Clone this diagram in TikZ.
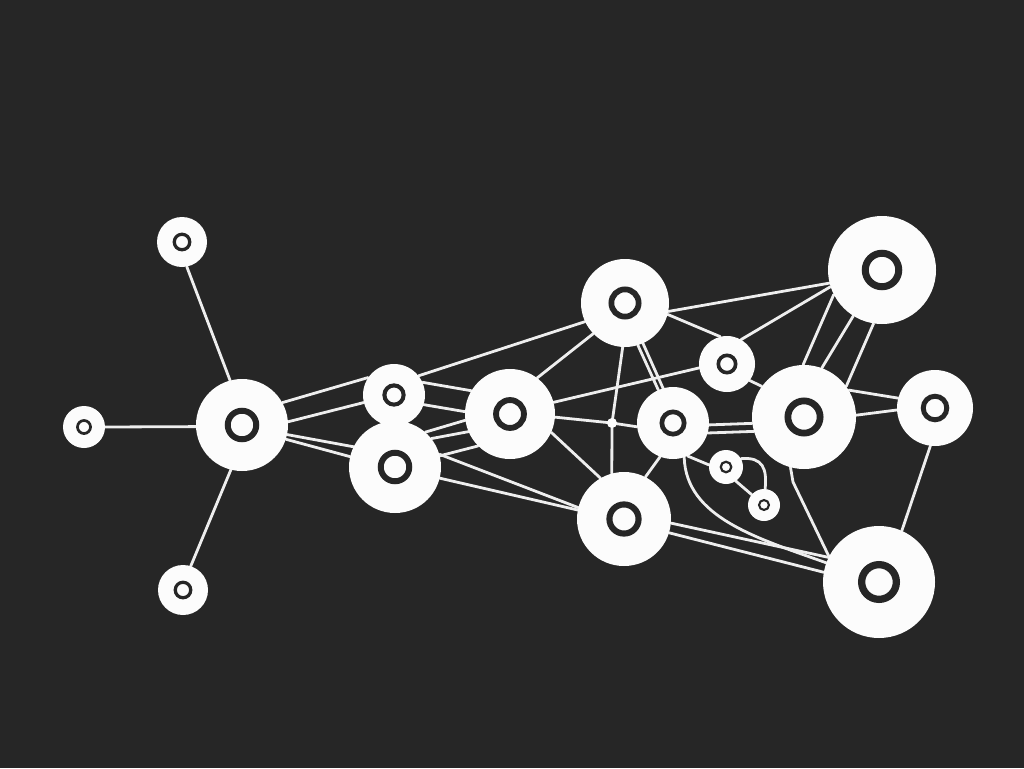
\documentclass[tikz,border=0pt]{standalone}
\usetikzlibrary{calc}
\definecolor{bgc}{HTML}{262626}
\definecolor{linec}{HTML}{EEEEEE}
\definecolor{discc}{HTML}{FCFCFC}
\pgfdeclarelayer{bgl}
\pgfdeclarelayer{edgel}
\pgfsetlayers{bgl,edgel,main}
\tikzset{
  disc/.style={circle, fill=discc, draw=none, inner sep=0pt, minimum size={2*#1pt},
    path picture={\draw[bgc, line width={0.13*#1pt}] (path picture bounding box.center) circle[radius={0.31*#1pt}];}},
  dot/.style={circle, fill=discc, draw=none, inner sep=0pt, minimum size=10pt},
  link/.style={draw=linec, line width=2.8pt, line cap=round, line join=round},
}
\begin{document}
\begin{tikzpicture}[x=1pt,y=-1pt]
\useasboundingbox (0,0) rectangle (1024,768);
\begin{pgfonlayer}{bgl}
  \fill[bgc] (0,0) rectangle (1024,768);
\end{pgfonlayer}
% nodes
\node[disc=25] (L1) at (182,242) {};
\node[disc=21] (L2) at (84,427) {};
\node[disc=25] (L3) at (183,590) {};
\node[disc=46] (H) at (242,425) {};
\node[disc=31] (A) at (394,395) {};
\node[disc=46] (B) at (395,467) {};
\node[disc=45] (C) at (510,414) {};
\node[disc=44] (D) at (625,303) {};
\node[disc=28] (E) at (727,364) {};
\node[disc=36] (F) at (673,423) {};
\node[disc=52] (G) at (804,417) {};
\node[disc=54] (K) at (882,270) {};
\node[disc=38] (M) at (935,408) {};
\node[disc=47] (N) at (624,519) {};
\node[disc=56] (P) at (879,582) {};
\node[disc=17] (s1) at (726,467) {};
\node[disc=16] (s2) at (764,505) {};
\node[dot] (J) at (612,423) {};
\coordinate (gb) at (793,482);
% edges
\begin{pgfonlayer}{edgel}
\draw[link] (L1.-79) -- (H.105);
\draw[link] (L2.0) -- (H.182);
\draw[link] (L3.72) -- (H.256);
\draw[link] (H.29) -- (A.146);
\draw[link] (H.4) -- (A.194);
\draw[link] (H.-12) -- (B.154);
\draw[link] (H.-18) -- (B.167);
\draw[link] (A.38) -- (D.205);
\draw[link] (A.24) -- (C.149);
\draw[link] (A.-18) -- (C.177);
\draw[link] (B.49) -- (C.188);
\draw[link] (B.38) -- (C.203);
\draw[link] (B.14) -- (C.225);
\draw[link] (B.16) -- (N.166);
\draw[link] (B.-14) -- (N.169);
\draw[link] (C.53) -- (D.224);
\draw[link] (C.15) -- (E.188);
\draw[link] (C.-4) -- (J.center);
\draw[link] (J.center) -- (F.186);
\draw[link] (D.267) -- (J.center) -- (N.105);
\draw[link] (D.-73) -- (F.114);
\draw[link] (D.-66) -- (F.106);
\draw[link] (D.-11) -- (K.194);
\draw[link] (D.-15) -- (E.104);
\draw[link] (E.60) -- (K.198);
\draw[link] (E.-36) -- (G.144);
\draw[link] (F.-3) -- (G.187);
\draw[link] (F.-16) -- (G.196);
\draw[link] (F.-111) -- (N.63);
\draw[link] (F.-66) -- (s1.173);
\draw[link] (F.-72) .. controls +(2,60) and +(-70,-25) .. (P.160);
\draw[link] (s1.-55) -- (s2.140);
\draw[link] (s1.29) .. controls +(22,-2) and +(2,-20) .. (s2.86);
\draw[link] (N.-5) -- (P.154);
\draw[link] (N.-17) -- (P.170);
\draw[link] (C.-24) -- (N.120);
\draw[link] (G.-105) -- (gb) -- (P.153);
\draw[link] (G.91) -- (K.207);
\draw[link] (G.70) -- (K.238);
\draw[link] (G.36) -- (K.261);
\draw[link] (G.31) -- (M.165);
\draw[link] (G.2) -- (M.183);
\draw[link] (M.-97) -- (P.66);
\end{pgfonlayer}
\end{tikzpicture}
\end{document}
